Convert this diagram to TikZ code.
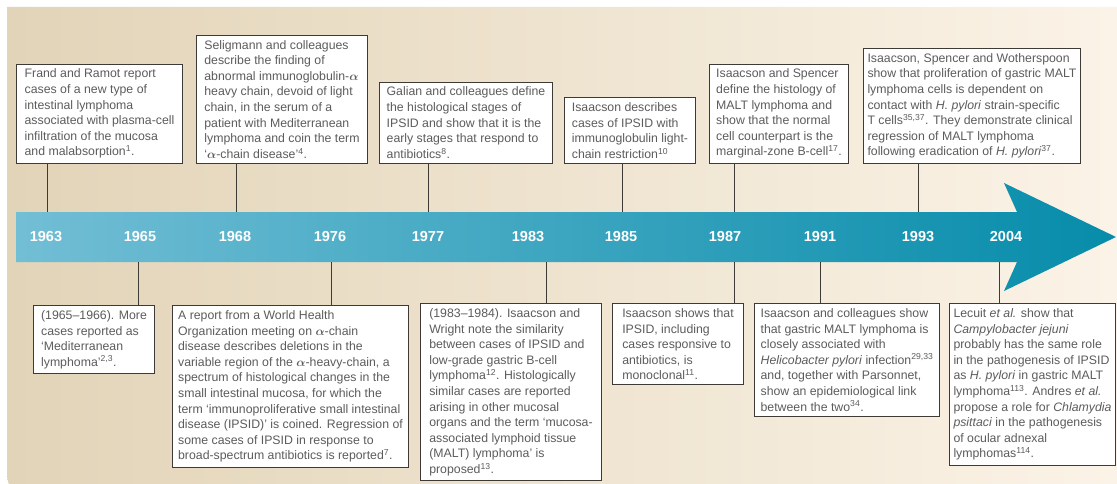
\documentclass[tikz,border=0pt]{standalone}
\usepackage{fontspec}
\setmainfont{Liberation Sans}
\usepackage{amsmath}
\usepackage{xcolor}
\usepackage{tikz}
\definecolor{panelLeft}{RGB}{226,212,184}
\definecolor{panelRight}{RGB}{251,243,231}
\definecolor{bandLeft}{RGB}{114,190,213}
\definecolor{bandRight}{RGB}{6,140,170}
\definecolor{boxLine}{RGB}{62,58,54}
\definecolor{boxText}{RGB}{92,92,92}

\begin{document}
\begin{tikzpicture}[
    x=1pt, y=-1pt,
    event/.style={
        rectangle,
        draw=boxLine,
        line width=1pt,
        fill=white,
        text=boxText,
        align=left,
        inner xsep=4pt,
        inner ysep=5pt,
        minimum width=#1,
        font=\fontsize{12.3}{15.6}\selectfont
    },
    year/.style={
        text=white,
        font=\fontsize{14.5}{16}\selectfont\bfseries
    },
    link/.style={draw=boxLine, line width=0.9pt}
]
    \useasboundingbox (0,0) rectangle (1117,484);
    \shade[left color=panelLeft, right color=panelRight]
        (1117,7) -- (7,7) -- (7,462) .. controls (7,490) .. (35,490) -- (1117,490) -- cycle;

    \shade[left color=bandLeft, right color=bandRight]
        (16,212) -- (1017,212) -- (1004,183) -- (1116,237) -- (1004,291) -- (1017,262) -- (16,262) -- cycle;

    \foreach \yr/\xx in {1963/46, 1965/140, 1968/235, 1976/330, 1977/428, 1983/528,
                         1985/621, 1987/725, 1991/820, 1993/918, 2004/1006}
        \node[year] (y\yr) at (\xx,237) {\yr};

    \foreach \yr/\xx in {1963/47, 1968/236, 1977/428, 1985/622, 1987/734, 1993/918}
        \coordinate (top\yr) at (\xx,212);
    \foreach \yr/\xx in {1965/138, 1976/331, 1983/546, 1987/734, 1991/820, 2004/999}
        \coordinate (bot\yr) at (\xx,262);

    \node[event=166, anchor=south west] (u1963) at (16,164) {Frand and Ramot report\\
        cases of a new type of\\ intestinal lymphoma\\ associated with plasma-cell\\
        infiltration of the mucosa\\ and malabsorption\textsuperscript{1}.};
    \node[event=171, anchor=south west] (u1968) at (196,164) {Seligmann and colleagues\\
        describe the finding of\\ abnormal immunoglobulin-$\boldsymbol{\alpha}$\\
        heavy chain, devoid of light\\ chain, in the serum of a\\ patient with Mediterranean\\
        lymphoma and coin the term\\ ‘$\boldsymbol{\alpha}$-chain disease’\textsuperscript{4}.};
    \node[event=173, anchor=south west] (u1977) at (379,164) {Galian and colleagues define\\
        the histological stages of\\ IPSID and show that it is the\\
        early stages that respond to\\ antibiotics\textsuperscript{8}.};
    \node[event=131, anchor=south west] (u1985) at (564,164) {Isaacson describes\\
        cases of IPSID with\\ immunoglobulin light-\\ chain restriction\textsuperscript{10}};
    \node[event=139, anchor=south west] (u1987) at (709,164) {Isaacson and Spencer\\
        define the histology of\\ MALT lymphoma and\\ show that the normal\\
        cell counterpart is the\\ marginal-zone B-cell\textsuperscript{17}.};
    \node[event=213, anchor=south west] (u1993) at (863,164) {Isaacson, Spencer and Wotherspoon\\
        show that proliferation of gastric MALT\\ lymphoma cells is dependent on\\
        contact with \textit{H. pylori} strain-specific\\
        T cells\textsuperscript{35,37}. They demonstrate clinical\\
        regression of MALT lymphoma\\ following eradication of \textit{H. pylori}\textsuperscript{37}.};

    \node[event=121, anchor=north west] (l1965) at (33,305) {(1965–1966). More\\
        cases reported as\\ ‘Mediterranean\\ lymphoma’\textsuperscript{2,3}.};
    \node[event=236, anchor=north west] (l1976) at (172,305) {A report from a World Health\\
        Organization meeting on $\boldsymbol{\alpha}$-chain\\ disease describes deletions in the\\
        variable region of the $\boldsymbol{\alpha}$-heavy-chain, a\\
        spectrum of histological changes in the\\ small intestinal mucosa, for which the\\
        term ‘immunoproliferative small intestinal\\ disease (IPSID)’ is coined. Regression of\\
        some cases of IPSID in response to\\ broad-spectrum antibiotics is reported\textsuperscript{7}.};
    \node[event=181, anchor=north west] (l1983) at (420,303) {(1983–1984). Isaacson and\\
        Wright note the similarity\\ between cases of IPSID and\\ low-grade gastric B-cell\\
        lymphoma\textsuperscript{12}. Histologically\\ similar cases are reported\\
        arising in other mucosal\\ organs and the term ‘mucosa-\\ associated lymphoid tissue\\
        (MALT) lymphoma’ is\\ proposed\textsuperscript{13}.};
    \node[event=131, anchor=north west] (l1987) at (612,303) {Isaacson shows that\\
        IPSID, including\\ cases responsive to\\ antibiotics, is\\ monoclonal\textsuperscript{11}.};
    \node[event=185, anchor=north west] (l1991) at (754,303) {Isaacson and colleagues show\\
        that gastric MALT lymphoma is\\ closely associated with\\
        \textit{Helicobacter pylori} infection\textsuperscript{29,33}\\
        and, together with Parsonnet,\\ show an epidemiological link\\
        between the two\textsuperscript{34}.};
    \node[event=162, anchor=north west] (l2004) at (949,303) {Lecuit \textit{et al.} show that\\
        \textit{Campylobacter jejuni}\\ probably has the same role\\ in the pathogenesis of IPSID\\
        as \textit{H. pylori} in gastric MALT\\ lymphoma\textsuperscript{113}. Andres \textit{et al.}\\
        propose a role for \textit{Chlamydia}\\ \textit{psittaci} in the pathogenesis\\
        of ocular adnexal\\ lymphomas\textsuperscript{114}.};

    \foreach \yr in {1963, 1968, 1977, 1985, 1987, 1993}
        \draw[link] (u\yr.south -| top\yr) -- (top\yr);
    \foreach \yr in {1965, 1976, 1983, 1987, 1991, 2004}
        \draw[link] (bot\yr) -- (bot\yr |- l\yr.north);

\end{tikzpicture}
\end{document}
